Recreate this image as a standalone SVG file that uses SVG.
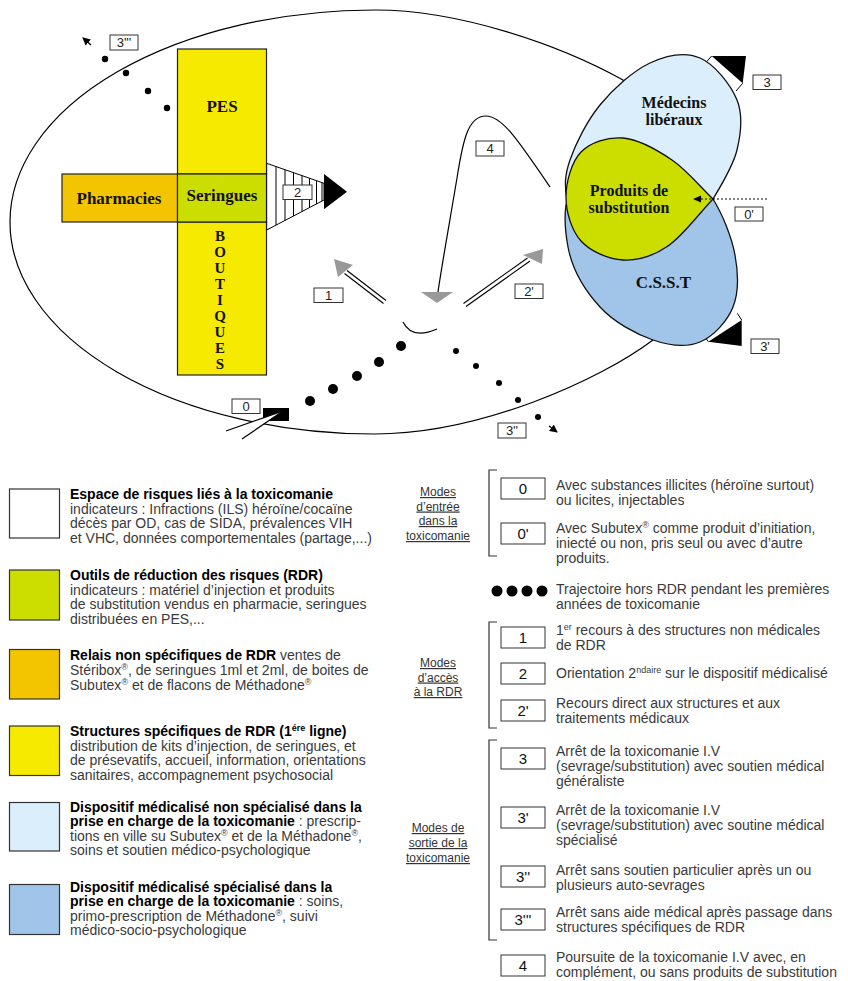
<svg xmlns="http://www.w3.org/2000/svg" width="848" height="981" viewBox="0 0 848 981">
<defs>
<marker id="ah" markerWidth="8" markerHeight="8" refX="7" refY="4" orient="auto" markerUnits="userSpaceOnUse"><path d="M0,0 L8,4 L0,8 Z" fill="#000"/></marker>
</defs>
<style>
.serif{font-family:"Liberation Serif","Times New Roman",serif;font-weight:bold;fill:#111;text-anchor:middle}
.lbl{font-family:"Liberation Sans",Arial,sans-serif;font-size:13px;text-anchor:middle;fill:#222}
.lbox{fill:#fff;stroke:#333;stroke-width:1}
.leg{font-family:"Liberation Sans",Arial,sans-serif;font-size:14px;fill:#3a3a3a}
.b{font-weight:bold;fill:#000}
.sup{font-size:9px;baseline-shift:super}
.mode{font-family:"Liberation Sans",Arial,sans-serif;font-size:12px;fill:#333;text-anchor:middle;text-decoration:underline}
.ln{stroke:#000;fill:none;stroke-width:1.2}
.key{font-family:"Liberation Sans",Arial,sans-serif;font-size:15px;text-anchor:middle;fill:#111}
.sw{stroke:#333;stroke-width:1.2}
</style>
<rect width="848" height="981" fill="#fff"/>

<g id="espace">
<path class="ln" d="M375,10 A365,212 0 0 0 375,434 C480,434 600,380 653,340 L645,200 L623,80 C560,45 460,10 375,10 Z"/>
</g>

<g id="pes"><rect x="177.5" y="49" width="89" height="125" fill="#F6EB00" stroke="#222" stroke-width="1.2"/><text class="serif" x="222" y="112" font-size="17">PES</text></g>
<g id="boutiques"><rect x="177.5" y="222" width="89" height="153" fill="#F6EB00" stroke="#222" stroke-width="1.2"/>
<text class="serif" x="220" font-size="15"><tspan x="220" y="241">B</tspan><tspan x="220" y="257">O</tspan><tspan x="220" y="273">U</tspan><tspan x="220" y="289">T</tspan><tspan x="220" y="305">I</tspan><tspan x="220" y="321">Q</tspan><tspan x="220" y="337">U</tspan><tspan x="220" y="353">E</tspan><tspan x="220" y="369">S</tspan></text></g>
<g id="pharmacies"><rect x="62" y="174" width="115.5" height="48" fill="#F3C500" stroke="#222" stroke-width="1.2"/><text class="serif" x="119" y="204" font-size="17">Pharmacies</text></g>
<g id="seringues"><rect x="177.5" y="174" width="89" height="48" fill="#CCDD00" stroke="#222" stroke-width="1.2"/><text class="serif" x="222" y="201" font-size="17">Seringues</text></g>

<g id="connectors">
<polygon points="266.7,163.3 324,183.3 324,200 266.7,230" fill="#fff" stroke="#000" stroke-width="1"/>
<g stroke="#000" stroke-width="1">
<line x1="276" y1="166.5" x2="276" y2="225.1"/><line x1="285" y1="169.7" x2="285" y2="220.4"/><line x1="293.5" y1="172.7" x2="293.5" y2="216"/><line x1="302" y1="175.6" x2="302" y2="211.5"/><line x1="309.5" y1="178.2" x2="309.5" y2="207.6"/><line x1="316.5" y1="180.7" x2="316.5" y2="203.9"/><line x1="322" y1="182.6" x2="322" y2="201"/>
</g>
<polygon points="324,174 324,209.3 347,191.7" fill="#000"/>
<polygon points="711.7,56 742.7,83.3 736,91 705,63.5" fill="#fff"/>
<line x1="711.7" y1="56" x2="705" y2="63.5" stroke="#000"/><line x1="742.7" y1="83.3" x2="736" y2="91" stroke="#000"/>
<polygon points="711.7,56 746,56 742.7,83.3" fill="#000"/>
<polygon points="708.3,341.7 741.7,320 737.3,313.3 703.9,335" fill="#fff"/>
<line x1="741.7" y1="320" x2="737.3" y2="313.3" stroke="#000"/><line x1="708.3" y1="341.7" x2="703.9" y2="335" stroke="#000"/>
<polygon points="708.3,341.7 741.7,320 741.7,346" fill="#000"/>
</g>

<g id="medecins">
<path d="M713,199 C720.8,186 733,166.5 737,150 C741,133.5 743.2,115.3 737,100 C730.8,84.7 714.5,64.2 700,58 C685.5,51.8 666.7,55.2 650,63 C633.3,70.8 613.3,88.8 600,105 C586.7,121.2 575.5,144.2 570,160 C564.5,175.8 564.5,185.8 567,200 C569.5,214.2 575.7,235 585,245 C594.3,255 610.5,258.8 623,260 C635.5,261.2 648.8,257.3 660,252 C671.2,246.7 681.2,236.8 690,228 C698.8,219.2 705.2,212 713,199 Z" fill="#DBEEFB" stroke="#111" stroke-width="1.3"/>
</g>
<g id="csst">
<path d="M713,199 C722.2,213.7 731.7,237 735,255 C738.3,273 738.8,292.5 733,307 C727.2,321.5 713.3,336.5 700,342 C686.7,347.5 669.7,345.8 653,340 C636.3,334.2 614.2,322.5 600,307 C585.8,291.5 572.5,271 568,247 C563.5,223 565,212 566,205 L600,185 L660,185 Z" fill="#A0C5E8" stroke="#111" stroke-width="1.3"/>
</g>
<g id="substitution">
<path d="M713,199 C699.3,186 687,170.2 672,160 C657,149.8 638.2,139.3 623,138 C607.8,136.7 590.5,142.2 581,152 C571.5,161.8 566,182.2 566,197 C566,211.8 571.5,230.5 581,241 C590.5,251.5 608.5,259.2 623,260 C637.5,260.8 653,256.2 668,246 C683,235.8 698,214.7 713,199 Z" fill="#CCDD00" stroke="#111" stroke-width="1.3"/>
</g>
<g id="labels-ellipses">
<text class="serif" x="674" y="108" font-size="16">Médecins</text>
<text class="serif" x="674" y="125" font-size="16">libéraux</text>
<text class="serif" x="629" y="196" font-size="16">Produits de</text>
<text class="serif" x="629" y="213" font-size="16">substitution</text>
<text class="serif" x="663.5" y="288" font-size="17">C.S.S.T</text>
</g>

<g id="connectors2">
<path class="ln" d="M550,187 C518,140 502,116 486,116 C468,116 463,140 457,178 C450,220 441,270 438,292"/>
<polygon points="421,292 453,292 437,303" fill="#999"/>
<line x1="386" y1="300.5" x2="347" y2="270.5" stroke="#000" stroke-width="1.1"/>
<line x1="383.5" y1="303.5" x2="344.5" y2="273.5" stroke="#000" stroke-width="1.1"/>
<polygon points="334,259 353,265 338,277" fill="#999"/>
<line x1="466" y1="306.5" x2="530" y2="261" stroke="#000" stroke-width="1.1"/>
<line x1="463.5" y1="303.5" x2="527.5" y2="258" stroke="#000" stroke-width="1.1"/>
<polygon points="523,255 543,249 542,264" fill="#999"/>
<path class="ln" d="M403,322 Q412,340 437,329"/>
<g fill="#000">
<circle cx="310" cy="401" r="5"/><circle cx="333" cy="389" r="5"/><circle cx="357" cy="376" r="5"/><circle cx="379" cy="362" r="5"/><circle cx="401" cy="346" r="5"/>
<circle cx="456" cy="351" r="3"/><circle cx="476" cy="366" r="3"/><circle cx="499" cy="383" r="3"/><circle cx="518" cy="400" r="3"/><circle cx="538" cy="417" r="3"/>
<circle cx="105" cy="59" r="3.2"/><circle cx="126" cy="73" r="3.2"/><circle cx="148" cy="91" r="3.2"/><circle cx="167" cy="108" r="3.2"/>
</g>
<line x1="549" y1="426" x2="557" y2="432" class="ln" marker-end="url(#ah)"/>
<line x1="91" y1="45" x2="83" y2="38" class="ln" marker-end="url(#ah)"/>
<rect x="263" y="408" width="26" height="13" fill="#000"/>
<polygon points="226,431 283,411 242,439" fill="#fff"/>
<line x1="226" y1="431" x2="283" y2="411" stroke="#000" stroke-width="1.2"/>
<line x1="242" y1="439" x2="283" y2="411" stroke="#000" stroke-width="1.2"/>
<line x1="767" y1="199" x2="700" y2="199" stroke="#000" stroke-width="1" stroke-dasharray="2,2"/>
<polygon points="693,199 701,195.5 701,202.5" fill="#000"/>
</g>

<g id="tags">
<rect class="lbox" x="110" y="35" width="28" height="15"/><text class="lbl" x="124" y="47">3'''</text>
<rect class="lbox" x="283" y="185" width="29" height="14.5"/><text class="lbl" x="297.5" y="197">2</text>
<rect class="lbox" x="476" y="141" width="28" height="15"/><text class="lbl" x="490" y="153">4</text>
<rect class="lbox" x="753" y="75" width="28" height="14.5"/><text class="lbl" x="767" y="87">3</text>
<rect class="lbox" x="735" y="207" width="28" height="14"/><text class="lbl" x="749" y="219">0'</text>
<rect class="lbox" x="314" y="288" width="29" height="14.5"/><text class="lbl" x="328.5" y="300">1</text>
<rect class="lbox" x="515" y="284" width="28" height="14.5"/><text class="lbl" x="529" y="296">2'</text>
<rect class="lbox" x="751" y="339" width="28" height="14.5"/><text class="lbl" x="765" y="351">3'</text>
<rect class="lbox" x="232" y="399" width="28" height="14.5"/><text class="lbl" x="246" y="411">0</text>
<rect class="lbox" x="498" y="423" width="28" height="15"/><text class="lbl" x="512" y="435">3''</text>
</g>

<g id="legend-espace">
<rect class="sw" x="9.5" y="489" width="50" height="49" fill="#fff"/>
<text class="leg" x="70" y="499"><tspan class="b">Espace de risques liés à la toxicomanie</tspan></text>
<text class="leg" x="70" y="513.5">indicateurs : Infractions (ILS) héroïne/cocaïne</text>
<text class="leg" x="70" y="528">décès par OD, cas de SIDA, prévalences VIH</text>
<text class="leg" x="70" y="543">et VHC, données comportementales (partage,...)</text>
</g>
<g id="legend-outils">
<rect class="sw" x="9.5" y="570" width="50" height="50" fill="#CCDD00"/>
<text class="leg" x="70" y="580"><tspan class="b">Outils de réduction des risques (RDR)</tspan></text>
<text class="leg" x="70" y="594.5">indicateurs : matériel d’injection et produits</text>
<text class="leg" x="70" y="609">de substitution vendus en pharmacie, seringues</text>
<text class="leg" x="70" y="623.5">distribuées en PES,...</text>
</g>
<g id="legend-relais">
<rect class="sw" x="9.5" y="649.5" width="50" height="49.5" fill="#F3C500"/>
<text class="leg" x="70" y="660"><tspan class="b">Relais non spécifiques de RDR</tspan> ventes de</text>
<text class="leg" x="70" y="675">Stéribox<tspan class="sup">®</tspan>, de seringues 1ml et 2ml, de boites de</text>
<text class="leg" x="70" y="690">Subutex<tspan class="sup">®</tspan> et de flacons de Méthadone<tspan class="sup">®</tspan></text>
</g>
<g id="legend-structures">
<rect class="sw" x="9.5" y="726" width="50" height="49.5" fill="#F6EB00"/>
<text class="leg" x="70" y="736"><tspan class="b">Structures spécifiques de RDR (1</tspan><tspan class="b sup">ére</tspan><tspan class="b"> ligne)</tspan></text>
<text class="leg" x="70" y="750.5">distribution de kits d’injection, de seringues, et</text>
<text class="leg" x="70" y="765">de présevatifs, accueil, information, orientations</text>
<text class="leg" x="70" y="779.5">sanitaires, accompagnement psychosocial</text>
</g>
<g id="legend-medecins">
<rect class="sw" x="9.5" y="802.5" width="50" height="48.5" fill="#DBEEFB"/>
<text class="leg" x="70" y="811.5"><tspan class="b">Dispositif médicalisé non spécialisé dans la</tspan></text>
<text class="leg" x="70" y="826"><tspan class="b">prise en charge de la toxicomanie</tspan> : prescrip-</text>
<text class="leg" x="70" y="840.5">tions en ville su Subutex<tspan class="sup">®</tspan> et de la Méthadone<tspan class="sup">®</tspan>,</text>
<text class="leg" x="70" y="855">soins et soutien médico-psychologique</text>
</g>
<g id="legend-csst">
<rect class="sw" x="9.5" y="884.5" width="50" height="50" fill="#A0C5E8"/>
<text class="leg" x="70" y="891.5"><tspan class="b">Dispositif médicalisé spécialisé dans la</tspan></text>
<text class="leg" x="70" y="906"><tspan class="b">prise en charge de la toxicomanie</tspan> : soins,</text>
<text class="leg" x="70" y="920.5">primo-prescription de Méthadone<tspan class="sup">®</tspan>, suivi</text>
<text class="leg" x="70" y="935">médico-socio-psychologique</text>
</g>

<g id="modes">
<text class="mode" x="438" y="496">Modes</text>
<text class="mode" x="438" y="510.5">d’entrée</text>
<text class="mode" x="438" y="525">dans la</text>
<text class="mode" x="438" y="540">toxicomanie</text>
<text class="mode" x="438" y="667">Modes</text>
<text class="mode" x="438" y="681.5">d’accès</text>
<text class="mode" x="438" y="696">à la RDR</text>
<text class="mode" x="438" y="832">Modes de</text>
<text class="mode" x="438" y="847">sortie de la</text>
<text class="mode" x="438" y="862">toxicomanie</text>
</g>

<g id="brackets" fill="none" stroke="#333" stroke-width="1.2">
<path d="M497,470 H489 V556 H497"/>
<path d="M497,622 H489 V728 H497"/>
<path d="M497,740 H489 V940 H497"/>
</g>
<g id="key-0"><rect class="lbox" x="501" y="478" width="44" height="21"/><text class="key" x="523" y="494">0</text>
<text class="leg" x="556" y="490">Avec substances illicites (héroïne surtout)</text>
<text class="leg" x="556" y="505">ou licites, injectables</text></g>
<g id="key-0p"><rect class="lbox" x="501" y="523" width="44" height="21"/><text class="key" x="523" y="539">0'</text>
<text class="leg" x="556" y="533">Avec Subutex<tspan class="sup">®</tspan> comme produit d’initiation,</text>
<text class="leg" x="556" y="548">iniecté ou non, pris seul ou avec d’autre</text>
<text class="leg" x="556" y="563">produits.</text></g>
<g id="key-dots"><g fill="#000"><circle cx="497" cy="591" r="5.5"/><circle cx="512" cy="591" r="5.5"/><circle cx="527" cy="591" r="5.5"/><circle cx="542" cy="591" r="5.5"/></g>
<text class="leg" x="556" y="594">Trajectoire hors RDR pendant les premières</text>
<text class="leg" x="556" y="609">années de toxicomanie</text></g>
<g id="key-1"><rect class="lbox" x="501" y="627" width="44" height="21"/><text class="key" x="523" y="643">1</text>
<text class="leg" x="556" y="635">1<tspan class="sup" font-size="8">er</tspan> recours à des structures non médicales</text>
<text class="leg" x="556" y="650">de RDR</text></g>
<g id="key-2"><rect class="lbox" x="501" y="663" width="44" height="21"/><text class="key" x="523" y="679">2</text>
<text class="leg" x="556" y="678">Orientation 2<tspan class="sup" font-size="8">ndaire</tspan> sur le dispositif médicalisé</text></g>
<g id="key-2p"><rect class="lbox" x="501" y="700" width="44" height="21"/><text class="key" x="523" y="716">2'</text>
<text class="leg" x="556" y="708">Recours direct aux structures et aux</text>
<text class="leg" x="556" y="723">traitements médicaux</text></g>
<g id="key-3"><rect class="lbox" x="501" y="748" width="44" height="21"/><text class="key" x="523" y="764">3</text>
<text class="leg" x="556" y="756">Arrêt de la toxicomanie I.V</text>
<text class="leg" x="556" y="771">(sevrage/substitution) avec soutien médical</text>
<text class="leg" x="556" y="786">généraliste</text></g>
<g id="key-3p"><rect class="lbox" x="501" y="807" width="44" height="21"/><text class="key" x="523" y="823">3'</text>
<text class="leg" x="556" y="815">Arrêt de la toxicomanie I.V</text>
<text class="leg" x="556" y="830">(sevrage/substitution) avec soutine médical</text>
<text class="leg" x="556" y="845">spécialisé</text></g>
<g id="key-3pp"><rect class="lbox" x="501" y="866" width="44" height="21"/><text class="key" x="523" y="882">3''</text>
<text class="leg" x="556" y="875">Arrêt sans soutien particulier après un ou</text>
<text class="leg" x="556" y="890">plusieurs auto-sevrages</text></g>
<g id="key-3ppp"><rect class="lbox" x="501" y="909" width="44" height="21"/><text class="key" x="523" y="925">3'''</text>
<text class="leg" x="556" y="917">Arrêt sans aide médical après passage dans</text>
<text class="leg" x="556" y="932">structures spécifiques de RDR</text></g>
<g id="key-4"><rect class="lbox" x="501" y="955" width="44" height="21"/><text class="key" x="523" y="971">4</text>
<text class="leg" x="556" y="962">Poursuite de la toxicomanie I.V avec, en</text>
<text class="leg" x="556" y="977">complément, ou sans produits de substitution</text></g>
</svg>
